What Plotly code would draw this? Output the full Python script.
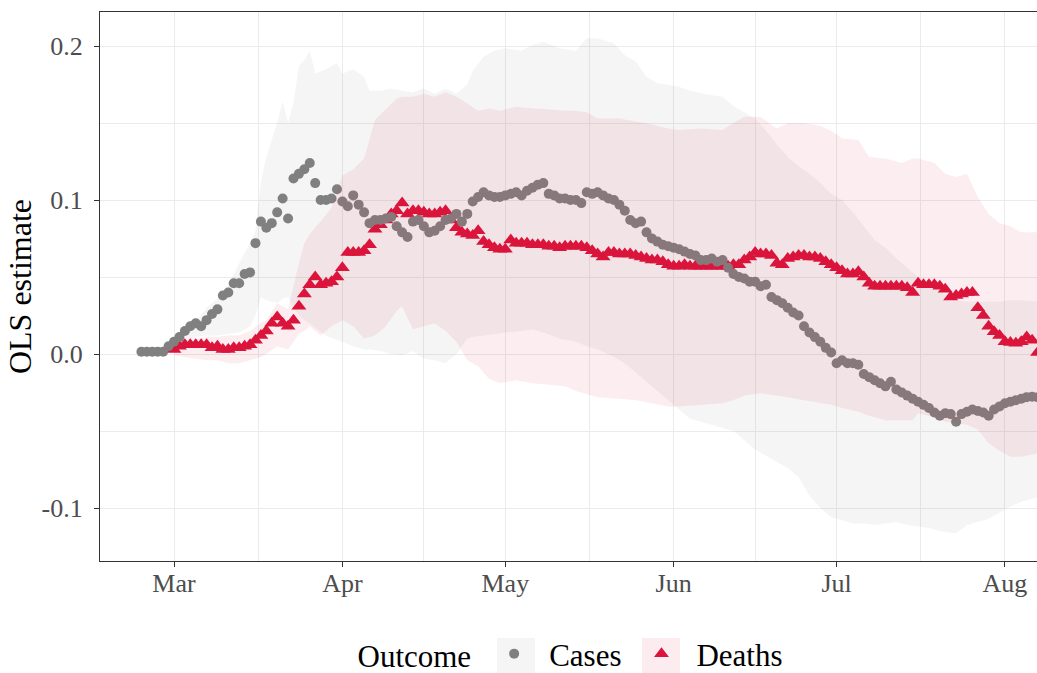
import pandas as pd
import plotly.graph_objects as go

# ---------------- data ----------------
cases_start = "2020-02-24"
cases_est = [
    0.0015, 0.0015, 0.0015, 0.0015, 0.0015, 0.005, 0.008, 0.011, 0.015, 0.018,
    0.020, 0.018, 0.022, 0.026, 0.029, 0.038, 0.040, 0.046, 0.046, 0.052,
    0.053, 0.072, 0.086, 0.082, 0.085, 0.092, 0.101, 0.088, 0.114, 0.117,
    0.120, 0.124, 0.111, 0.100, 0.100, 0.101, 0.107, 0.099, 0.096, 0.103,
    0.097, 0.092, 0.085, 0.087, 0.087, 0.088, 0.089, 0.083, 0.079, 0.076,
    0.086, 0.087, 0.083, 0.079, 0.080, 0.083, 0.087, 0.088, 0.091, 0.086,
    0.091, 0.099, 0.102, 0.105, 0.103, 0.102, 0.102, 0.103, 0.104, 0.105,
    0.103, 0.106, 0.108, 0.110, 0.111, 0.104, 0.103, 0.101, 0.101, 0.100,
    0.100, 0.098, 0.105, 0.104, 0.105, 0.103, 0.101, 0.100, 0.097, 0.093,
    0.087, 0.085, 0.086, 0.079, 0.075, 0.073, 0.071, 0.070, 0.069, 0.068,
    0.0665, 0.065, 0.064, 0.061, 0.061, 0.062, 0.060, 0.061, 0.056, 0.052,
    0.050, 0.049, 0.047, 0.047, 0.044, 0.045, 0.037, 0.035, 0.033, 0.030,
    0.027, 0.025, 0.018, 0.014, 0.011, 0.008, 0.004, 0.001, -0.006, -0.004,
    -0.006, -0.006, -0.007, -0.013, -0.015, -0.017, -0.019, -0.021, -0.018, -0.023,
    -0.025, -0.027, -0.029, -0.031, -0.033, -0.035, -0.038, -0.040, -0.0385, -0.039,
    -0.044, -0.039, -0.0375, -0.036, -0.037, -0.038, -0.040, -0.036, -0.034, -0.032,
    -0.031, -0.030, -0.029, -0.028, -0.0277, -0.028,
]

deaths_start = "2020-03-01"
deaths_est = [
    0.003, 0.005, 0.006, 0.006, 0.006, 0.006, 0.006, 0.004, 0.005, 0.003,
    0.003, 0.004, 0.004, 0.005, 0.006, 0.009, 0.012, 0.015, 0.020, 0.024,
    0.020, 0.018, 0.022, 0.031, 0.039, 0.045, 0.050, 0.045, 0.046, 0.047,
    0.050, 0.056, 0.066, 0.066, 0.066, 0.067, 0.071, 0.081, 0.084, 0.087,
    0.091, 0.093, 0.098, 0.091, 0.093, 0.093, 0.092, 0.091, 0.091, 0.092,
    0.093, 0.087, 0.082, 0.079, 0.078, 0.077, 0.080, 0.073, 0.071, 0.069,
    0.068, 0.068, 0.074, 0.072, 0.072, 0.072, 0.071, 0.071, 0.071, 0.070,
    0.070, 0.069, 0.070, 0.070, 0.070, 0.070, 0.069, 0.067, 0.065, 0.063,
    0.066, 0.066, 0.065, 0.065, 0.065, 0.064, 0.063, 0.062, 0.061, 0.061,
    0.060, 0.058, 0.057, 0.057, 0.058, 0.057, 0.057, 0.057, 0.057, 0.057,
    0.057, 0.057, 0.057, 0.058, 0.058, 0.061, 0.063, 0.066, 0.065, 0.065,
    0.064, 0.059, 0.058, 0.062, 0.063, 0.064, 0.064, 0.063, 0.063, 0.062,
    0.060, 0.058, 0.056, 0.054, 0.052, 0.052, 0.0535, 0.050, 0.046, 0.044,
    0.044, 0.044, 0.044, 0.044, 0.044, 0.043, 0.040, 0.046, 0.045, 0.045,
    0.045, 0.044, 0.042, 0.037, 0.038, 0.039, 0.040, 0.040, 0.030, 0.025,
    0.018, 0.0145, 0.012, 0.008, 0.0075, 0.007, 0.008, 0.011, 0.009, 0.001,
]

cases_band_dates = [
    "2020-02-24", "2020-02-28", "2020-03-01", "2020-03-03", "2020-03-05",
    "2020-03-07", "2020-03-09", "2020-03-11", "2020-03-13", "2020-03-15",
    "2020-03-16", "2020-03-17", "2020-03-18", "2020-03-20", "2020-03-21",
    "2020-03-22", "2020-03-23", "2020-03-24", "2020-03-25", "2020-03-26",
    "2020-03-27", "2020-03-29", "2020-03-31", "2020-04-01", "2020-04-03",
    "2020-04-05", "2020-04-06", "2020-04-08", "2020-04-10", "2020-04-12",
    "2020-04-14", "2020-04-16", "2020-04-18", "2020-04-20", "2020-04-22",
    "2020-04-24", "2020-04-25", "2020-04-27", "2020-04-29", "2020-05-01",
    "2020-05-04", "2020-05-06", "2020-05-08", "2020-05-11", "2020-05-14",
    "2020-05-16", "2020-05-18", "2020-05-21", "2020-05-23", "2020-05-25",
    "2020-05-27", "2020-05-29", "2020-05-31", "2020-06-02", "2020-06-04",
    "2020-06-06", "2020-06-08", "2020-06-10", "2020-06-12", "2020-06-14",
    "2020-06-16", "2020-06-18", "2020-06-20", "2020-06-22", "2020-06-24",
    "2020-06-26", "2020-06-28", "2020-06-30", "2020-07-02", "2020-07-04",
    "2020-07-06", "2020-07-08", "2020-07-10", "2020-07-12", "2020-07-14",
    "2020-07-16", "2020-07-18", "2020-07-20", "2020-07-22", "2020-07-23",
    "2020-07-25", "2020-07-27", "2020-07-29", "2020-07-31", "2020-08-02",
    "2020-08-04", "2020-08-07",
]
cases_lower = [
    0.0015, 0.0, 0.003, 0.008, 0.011,
    0.012, 0.012, 0.013, 0.014, 0.018,
    0.025, 0.037, 0.035, 0.033, 0.036,
    0.037, 0.030, 0.025, 0.022, 0.020,
    0.017, 0.012, 0.009, 0.008, 0.005,
    0.003, 0.003, 0.002, 0.0, -0.001,
    0.002, -0.003, -0.004, -0.006, 0.0,
    0.010, 0.011, 0.012, 0.013, 0.014,
    0.015, 0.016, 0.014, 0.010, 0.008,
    0.005, 0.003, -0.002, -0.006, -0.012,
    -0.018, -0.024, -0.030, -0.036, -0.042,
    -0.044, -0.046, -0.048, -0.050, -0.056,
    -0.062, -0.066, -0.070, -0.074, -0.080,
    -0.092, -0.100, -0.106, -0.108, -0.110,
    -0.110, -0.111, -0.110, -0.109, -0.111,
    -0.112, -0.113, -0.115, -0.116, -0.1165,
    -0.111, -0.109, -0.107, -0.103, -0.099,
    -0.096, -0.093,
]
cases_upper = [
    0.0015, 0.004, 0.010, 0.016, 0.021,
    0.030, 0.036, 0.045, 0.059, 0.072,
    0.080, 0.112, 0.128, 0.150, 0.164,
    0.150, 0.163, 0.187, 0.191, 0.197,
    0.182, 0.185, 0.189, 0.182, 0.185,
    0.180, 0.171, 0.171, 0.1725, 0.171,
    0.170, 0.1725, 0.169, 0.1725, 0.169,
    0.175, 0.184, 0.193, 0.197, 0.1985,
    0.197, 0.2006, 0.2028, 0.1985, 0.197,
    0.205, 0.205, 0.2017, 0.194, 0.190,
    0.180, 0.176, 0.1747, 0.1735, 0.171,
    0.1695, 0.168, 0.167, 0.161, 0.157,
    0.153, 0.145, 0.136, 0.128, 0.122,
    0.117, 0.111, 0.104, 0.100, 0.092,
    0.083, 0.074, 0.069, 0.062, 0.056,
    0.050, 0.046, 0.041, 0.036, 0.035,
    0.034, 0.034, 0.034, 0.034, 0.035,
    0.035, 0.034,
]

deaths_band_dates = [
    "2020-03-01", "2020-03-03", "2020-03-05", "2020-03-07", "2020-03-09",
    "2020-03-11", "2020-03-13", "2020-03-15", "2020-03-17", "2020-03-18",
    "2020-03-20", "2020-03-22", "2020-03-24", "2020-03-25", "2020-03-26",
    "2020-03-28", "2020-03-30", "2020-04-01", "2020-04-03", "2020-04-05",
    "2020-04-07", "2020-04-09", "2020-04-11", "2020-04-12", "2020-04-14",
    "2020-04-16", "2020-04-18", "2020-04-20", "2020-04-22", "2020-04-24",
    "2020-04-26", "2020-04-28", "2020-04-30", "2020-05-03", "2020-05-06",
    "2020-05-09", "2020-05-12", "2020-05-14", "2020-05-16", "2020-05-18",
    "2020-05-22", "2020-05-25", "2020-05-28", "2020-05-31", "2020-06-02",
    "2020-06-06", "2020-06-10", "2020-06-12", "2020-06-14", "2020-06-17",
    "2020-06-20", "2020-06-22", "2020-06-25", "2020-06-28", "2020-06-30",
    "2020-07-02", "2020-07-05", "2020-07-07", "2020-07-10", "2020-07-13",
    "2020-07-15", "2020-07-16", "2020-07-19", "2020-07-21", "2020-07-23",
    "2020-07-25", "2020-07-27", "2020-07-29", "2020-07-31", "2020-08-02",
    "2020-08-04", "2020-08-07",
]
deaths_lower = [
    -0.001, -0.002, -0.003, -0.004, -0.004,
    -0.006, -0.006, -0.004, -0.002, 0.000,
    0.005, 0.003, 0.013, 0.015, 0.018,
    0.012, 0.018, 0.022, 0.018, 0.010,
    0.012, 0.018, 0.028, 0.031, 0.016,
    0.018, 0.020, 0.015, 0.008, -0.004,
    -0.008, -0.016, -0.019, -0.017, -0.019,
    -0.020, -0.021, -0.024, -0.026, -0.028,
    -0.029, -0.030, -0.032, -0.034, -0.034,
    -0.033, -0.032, -0.030, -0.027, -0.0255,
    -0.027, -0.028, -0.030, -0.032, -0.033,
    -0.035, -0.0375, -0.040, -0.043, -0.043,
    -0.043, -0.0385, -0.041, -0.044, -0.045,
    -0.046, -0.049, -0.058, -0.063, -0.0667,
    -0.0667, -0.0645,
]
deaths_upper = [
    0.007, 0.009, 0.010, 0.011, 0.011,
    0.012, 0.012, 0.015, 0.020, 0.022,
    0.033, 0.029, 0.059, 0.072, 0.078,
    0.086, 0.095, 0.116, 0.120, 0.127,
    0.152, 0.159, 0.166, 0.167, 0.167,
    0.169, 0.167, 0.170, 0.167, 0.1627,
    0.158, 0.1595, 0.158, 0.1606, 0.1595,
    0.159, 0.158, 0.158, 0.157, 0.153,
    0.153, 0.151, 0.149, 0.1465, 0.1455,
    0.1465, 0.1455, 0.150, 0.154, 0.154,
    0.1465, 0.150, 0.150, 0.148, 0.145,
    0.140, 0.139, 0.128, 0.127, 0.124,
    0.127, 0.127, 0.124, 0.117, 0.115,
    0.117, 0.102, 0.091, 0.085, 0.083,
    0.079, 0.079,
]

outcome_labels = ["Cases", "Deaths"]
y_ticks = [-0.1, 0.0, 0.1, 0.2]
y_tick_text = ["-0.1", "0.0", "0.1", "0.2"]
x_ticks = ["2020-03-01", "2020-04-01", "2020-05-01", "2020-06-01", "2020-07-01", "2020-08-01"]
x_tick_text = ["Mar", "Apr", "May", "Jun", "Jul", "Aug"]
x_minor = ["2020-03-16 12:00", "2020-04-16", "2020-05-16 12:00", "2020-06-16", "2020-07-16 12:00"]
y_minor = [-0.05, 0.05, 0.15]

# ---------------- styling ----------------
FONT = "Liberation Serif"
GREY = "#808080"
CRIMSON = "#DC143C"
GREY_FILL = "rgba(128,128,128,0.08)"
RED_FILL = "rgba(220,20,60,0.08)"
PLOT_L, PLOT_T, PLOT_B = 100, 12, 561
W, H = 1037, 673

cases_x = pd.date_range(cases_start, periods=len(cases_est), freq="D")
deaths_x = pd.date_range(deaths_start, periods=len(deaths_est), freq="D")

fig = go.Figure()


def band(dates, lo, hi, color):
    d = pd.to_datetime(dates)
    fig.add_trace(go.Scatter(x=d, y=lo, mode="lines", line=dict(width=0),
                             showlegend=False, hoverinfo="skip"))
    fig.add_trace(go.Scatter(x=d, y=hi, mode="lines", line=dict(width=0),
                             fill="tonexty", fillcolor=color,
                             showlegend=False, hoverinfo="skip"))


band(cases_band_dates, cases_lower, cases_upper, GREY_FILL)

fig.add_trace(go.Scatter(x=deaths_x, y=deaths_est, mode="markers", name=outcome_labels[1],
                         marker=dict(symbol="triangle-up", size=13, color=CRIMSON,
                                     line=dict(width=0)),
                         legendrank=2))
fig.add_trace(go.Scatter(x=cases_x, y=cases_est, mode="markers", name=outcome_labels[0],
                         marker=dict(symbol="circle", size=10, color=GREY,
                                     line=dict(width=0)),
                         legendrank=1))

band(deaths_band_dates, deaths_lower, deaths_upper, RED_FILL)


# legend key backgrounds (ggplot-style key squares), in pixel -> paper coords
def px2paper_x(px):
    return (px - PLOT_L) / (W - PLOT_L)


def px2paper_y(py):
    return (PLOT_B - py) / (PLOT_B - PLOT_T)


key_boxes = [(497, 535, "#F5F5F5"), (642, 680, "#FCECEF")]
for x0, x1, col in key_boxes:
    fig.add_shape(type="rect", xref="paper", yref="paper",
                  x0=px2paper_x(x0), x1=px2paper_x(x1),
                  y0=px2paper_y(638), y1=px2paper_y(676),
                  fillcolor=col, line=dict(width=0), layer="below")

fig.update_layout(
    width=W, height=H,
    margin=dict(l=PLOT_L, r=0, t=PLOT_T, b=H - PLOT_B, autoexpand=False),
    paper_bgcolor="white", plot_bgcolor="white",
    font=dict(family=FONT, size=31, color="black"),
    showlegend=True,
    legend=dict(orientation="h", x=px2paper_x(572), xanchor="center",
                y=px2paper_y(654), yanchor="middle",
                title=dict(text="Outcome", font=dict(size=31)),
                font=dict(size=31), bgcolor="rgba(0,0,0,0)",
                traceorder="normal", itemwidth=60),
)

fig.update_xaxes(
    type="date", automargin=False,
    range=["2020-02-16 09:00", "2020-08-06 21:30"],
    tickmode="array", tickvals=x_ticks, ticktext=x_tick_text,
    tickfont=dict(family=FONT, size=26, color="#4D4D4D"),
    ticks="outside", ticklen=5, tickwidth=1.1, tickcolor="#333333",
    ticklabelstandoff=-6,
    showgrid=True, gridcolor="#EBEBEB", gridwidth=1.1,
    minor=dict(tickmode="array", tickvals=x_minor, showgrid=True,
               gridcolor="#EBEBEB", gridwidth=0.6, ticks=""),
    showline=True, linecolor="#333333", linewidth=1.1, mirror=True,
    zeroline=False,
)
fig.update_yaxes(
    automargin=False,
    range=[-0.1344, 0.2221],
    tickmode="array", tickvals=y_ticks, ticktext=y_tick_text,
    tickfont=dict(family=FONT, size=26, color="#4D4D4D"),
    ticks="outside", ticklen=5, tickwidth=1.1, tickcolor="#333333",
    ticklabelstandoff=6,
    showgrid=True, gridcolor="#EBEBEB", gridwidth=1.1,
    minor=dict(tickmode="array", tickvals=y_minor, showgrid=True,
               gridcolor="#EBEBEB", gridwidth=0.6, ticks=""),
    showline=True, linecolor="#333333", linewidth=1.1, mirror=False,
    zeroline=False,
    title=dict(text="OLS estimate", font=dict(family=FONT, size=32, color="black"),
               standoff=0),
)

fig.write_html(
    "out.html",
    config={"displayModeBar": False},
    post_script="document.body.style.margin='0';document.body.style.overflow='hidden';",
)
